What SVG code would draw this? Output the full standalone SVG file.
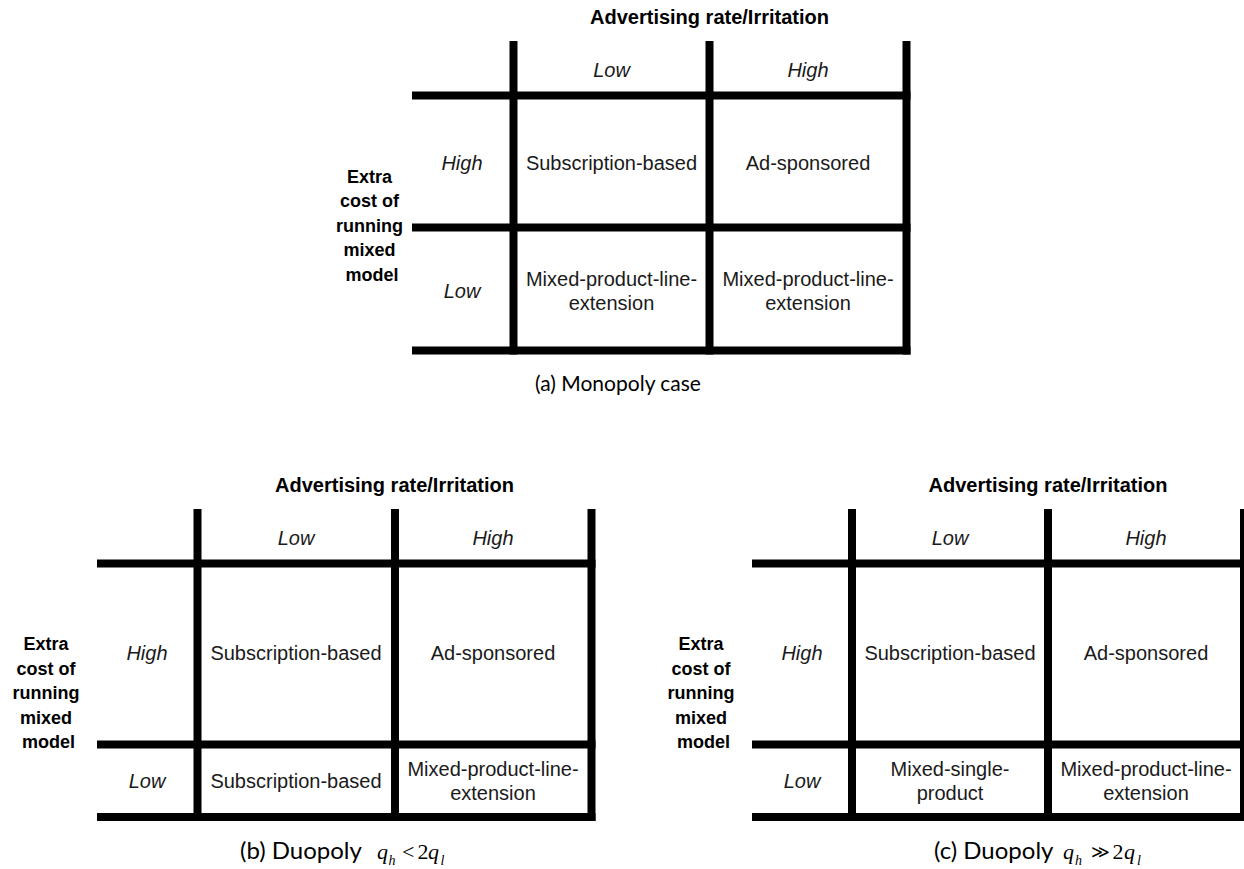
<svg xmlns="http://www.w3.org/2000/svg" width="1244" height="869" viewBox="0 0 1244 869">
  <style>
    .grid line { stroke: #000; stroke-width: 8; }
    .title { font-family: "Liberation Sans", Arial, sans-serif; font-weight: bold; font-size: 20px; text-anchor: middle; fill: #000; }
    .axis { font-family: "Liberation Sans", Arial, sans-serif; font-weight: bold; font-size: 18px; text-anchor: middle; fill: #000; }
    .lvl { font-family: "Liberation Sans", Arial, sans-serif; font-style: italic; font-size: 20px; text-anchor: middle; fill: #1a1a1a; }
    .cell { font-family: "Liberation Sans", Arial, sans-serif; font-size: 20px; text-anchor: middle; fill: #1a1a1a; }
    .cap { font-family: Lato, "Open Sans", sans-serif; font-size: 21px; fill: #000; }
    .cap2 { font-family: Lato, "Open Sans", sans-serif; font-size: 24px; fill: #000; }
    .m { font-family: "Liberation Serif", "Times New Roman", serif; font-size: 22px; fill: #000; }
    .mi { font-family: "Liberation Serif", "Times New Roman", serif; font-style: italic; font-size: 22px; fill: #000; }
    .sub { font-family: "Liberation Serif", "Times New Roman", serif; font-style: italic; font-size: 14px; fill: #000; }
    .gg { font-family: "DejaVu Serif", serif; font-size: 18px; fill: #000; }
  </style>

  <!-- (a) Monopoly case -->
  <g id="chart-a">
    <g id="grid-a" class="grid">
      <line x1="513.5" y1="41" x2="513.5" y2="354.5"/>
      <line x1="709.5" y1="41" x2="709.5" y2="354.5"/>
      <line x1="906.5" y1="41" x2="906.5" y2="354.5"/>
      <line x1="412" y1="95.5" x2="910.5" y2="95.5"/>
      <line x1="412" y1="227.5" x2="910.5" y2="227.5"/>
      <line x1="412" y1="350.5" x2="910.5" y2="350.5"/>
    </g>
    <text class="title" x="709.5" y="24">Advertising rate/Irritation</text>
    <text class="lvl" x="611.5" y="77">Low</text>
    <text class="lvl" x="808" y="77">High</text>
    <text class="lvl" x="462" y="170">High</text>
    <text class="lvl" x="462" y="298">Low</text>
    <text class="axis">
      <tspan x="372" y="183">Extra</tspan>
      <tspan x="372" y="207.4">cost of</tspan>
      <tspan x="372" y="231.8">running</tspan>
      <tspan x="372" y="256.2">mixed</tspan>
      <tspan x="372" y="280.6">model</tspan>
    </text>
    <g id="a-high-low"><text class="cell" x="611.5" y="170">Subscription-based</text></g>
    <g id="a-high-high"><text class="cell" x="808" y="170">Ad-sponsored</text></g>
    <g id="a-low-low"><text class="cell"><tspan x="611.5" y="286">Mixed-product-line-</tspan><tspan x="611.5" y="309.5">extension</tspan></text></g>
    <g id="a-low-high"><text class="cell"><tspan x="808" y="286">Mixed-product-line-</tspan><tspan x="808" y="309.5">extension</tspan></text></g>
    <text class="cap" x="618" y="391" text-anchor="middle">(a) Monopoly case</text>
  </g>

  <!-- (b) Duopoly, q_h < 2q_l -->
  <g id="chart-b">
    <g id="grid-b" class="grid">
      <line x1="197.5" y1="509" x2="197.5" y2="821"/>
      <line x1="395" y1="509" x2="395" y2="821"/>
      <line x1="591.5" y1="509" x2="591.5" y2="821"/>
      <line x1="97" y1="563.5" x2="595.5" y2="563.5"/>
      <line x1="97" y1="744.5" x2="595.5" y2="744.5"/>
      <line x1="97" y1="817" x2="595.5" y2="817"/>
    </g>
    <text class="title" x="394.5" y="492">Advertising rate/Irritation</text>
    <text class="lvl" x="296" y="545">Low</text>
    <text class="lvl" x="493" y="545">High</text>
    <text class="lvl" x="147" y="660">High</text>
    <text class="lvl" x="147" y="788">Low</text>
    <text class="axis">
      <tspan x="48.5" y="650">Extra</tspan>
      <tspan x="48.5" y="674.5">cost of</tspan>
      <tspan x="48.5" y="699">running</tspan>
      <tspan x="48.5" y="723.5">mixed</tspan>
      <tspan x="48.5" y="748">model</tspan>
    </text>
    <g id="b-high-low"><text class="cell" x="296" y="660">Subscription-based</text></g>
    <g id="b-high-high"><text class="cell" x="493" y="660">Ad-sponsored</text></g>
    <g id="b-low-low"><text class="cell" x="296" y="788">Subscription-based</text></g>
    <g id="b-low-high"><text class="cell"><tspan x="493" y="776">Mixed-product-line-</tspan><tspan x="493" y="800">extension</tspan></text></g>
    <g id="b-caption">
      <text class="cap2" x="240" y="859">(b) Duopoly</text>
      <text class="mi" x="377" y="859">q</text>
      <text class="sub" x="388.5" y="865">h</text>
      <text class="m" x="402" y="859">&lt;</text>
      <text class="m" x="417.5" y="859">2</text>
      <text class="mi" x="428" y="859">q</text>
      <text class="sub" x="440.5" y="865">l</text>
    </g>
  </g>

  <!-- (c) Duopoly, q_h >> 2q_l -->
  <g id="chart-c">
    <g id="grid-c" class="grid">
      <line x1="852" y1="509" x2="852" y2="821"/>
      <line x1="1048" y1="509" x2="1048" y2="821"/>
      <line x1="1244" y1="509" x2="1244" y2="821"/>
      <line x1="752" y1="563.5" x2="1248" y2="563.5"/>
      <line x1="752" y1="744.5" x2="1248" y2="744.5"/>
      <line x1="752" y1="817" x2="1248" y2="817"/>
    </g>
    <text class="title" x="1048" y="492">Advertising rate/Irritation</text>
    <text class="lvl" x="950" y="545">Low</text>
    <text class="lvl" x="1146" y="545">High</text>
    <text class="lvl" x="802" y="660">High</text>
    <text class="lvl" x="802" y="788">Low</text>
    <text class="axis">
      <tspan x="703.5" y="650">Extra</tspan>
      <tspan x="703.5" y="674.5">cost of</tspan>
      <tspan x="703.5" y="699">running</tspan>
      <tspan x="703.5" y="723.5">mixed</tspan>
      <tspan x="703.5" y="748">model</tspan>
    </text>
    <g id="c-high-low"><text class="cell" x="950" y="660">Subscription-based</text></g>
    <g id="c-high-high"><text class="cell" x="1146" y="660">Ad-sponsored</text></g>
    <g id="c-low-low"><text class="cell"><tspan x="950" y="776">Mixed-single-</tspan><tspan x="950" y="800">product</tspan></text></g>
    <g id="c-low-high"><text class="cell"><tspan x="1146" y="776">Mixed-product-line-</tspan><tspan x="1146" y="800">extension</tspan></text></g>
    <g id="c-caption">
      <text class="cap2" x="934" y="859">(c) Duopoly</text>
      <text class="mi" x="1063" y="859">q</text>
      <text class="sub" x="1075" y="865">h</text>
      <text class="gg" x="1091" y="858">≫</text>
      <text class="m" x="1112.5" y="859">2</text>
      <text class="mi" x="1124" y="859">q</text>
      <text class="sub" x="1137" y="865">l</text>
    </g>
  </g>
</svg>
